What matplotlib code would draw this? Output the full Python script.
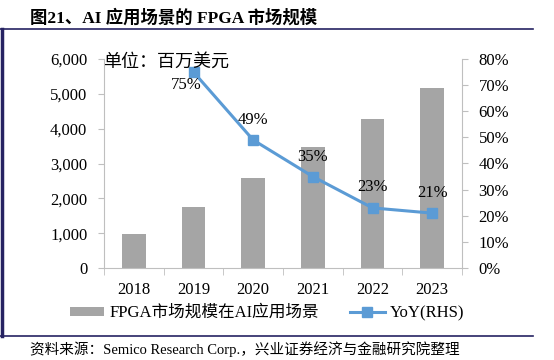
import matplotlib
matplotlib.use("Agg")
import matplotlib.pyplot as plt
from matplotlib.lines import Line2D
from matplotlib.patches import Patch
import numpy as np

years = ["2018", "2019", "2020", "2021", "2022", "2023"]
market = [990, 1740, 2580, 3466, 4277, 5163]
yoy_years = ["2019", "2020", "2021", "2022", "2023"]
yoy = [75, 49, 35, 23, 21]
left_ticks = [0, 1000, 2000, 3000, 4000, 5000, 6000]
right_ticks = [0, 10, 20, 30, 40, 50, 60, 70, 80]

FAM = ["Liberation Serif", "Noto Sans CJK SC"]
plt.rcParams["font.family"] = FAM

bar_color = "#A5A5A5"
line_color = "#5B9BD5"
spine_color = "#BFBFBF"
frame_color = "#262262"

fig = plt.figure(figsize=(5.54, 3.60), dpi=100)
ax = fig.add_axes([104/554, 1-268/360, (462-104)/554, (268-59)/360])
x = np.arange(len(years))
ax.bar(x, market, width=0.4, color=bar_color, zorder=2)
ax.set_xlim(-0.5, len(years)-0.5)
ax.set_ylim(0, 6000)
ax.set_yticks(left_ticks)
ax.set_yticklabels([f"{v:,}" for v in left_ticks], fontsize=12)
ax.set_xticks(x)
ax.set_xticklabels(years, fontsize=12)
ax.set_xticks(np.arange(-0.5, len(years)), minor=True)
ax.tick_params(axis="x", which="major", length=0, pad=10)
ax.tick_params(axis="x", which="minor", length=5, color=spine_color, direction="out")
ax.tick_params(axis="y", length=4, color=spine_color, direction="out", pad=8)
for s in ["top", "right"]:
    ax.spines[s].set_visible(False)
for s in ["left", "bottom"]:
    ax.spines[s].set_color(spine_color)

ax2 = ax.twinx()
xi = [years.index(y) for y in yoy_years]
ax2.plot(xi, yoy, color=line_color, lw=2.2, marker="s", markersize=6.5, zorder=3)
ax2.set_ylim(0, 80)
ax2.set_yticks(right_ticks)
ax2.set_yticklabels([f"{v}%" for v in right_ticks], fontsize=12)
ax2.tick_params(axis="y", length=4, color=spine_color, direction="out", pad=8)
for s in ["top", "left", "bottom"]:
    ax2.spines[s].set_visible(False)
ax2.spines["right"].set_color(spine_color)

offsets = [(-7, -13), (0, 20), (0, 20), (0, 21), (0, 20)]
for xx, v, (dx, dy) in zip(xi, yoy, offsets):
    ax2.annotate(f"{v}%", (xx, v), xytext=(dx*0.72, dy*0.72), textcoords="offset points",
                 ha="center", va="center", fontsize=12)

fig.text(103/554, 1-62/360, "单位：百万美元", fontsize=13, va="center", ha="left")

handles = [Patch(facecolor=bar_color, edgecolor="none"),
           Line2D([0], [0], color=line_color, lw=2.2, marker="s", markersize=6.5)]
fig.legend(handles, ["FPGA市场规模在AI应用场景", "YoY(RHS)"], loc="center",
           bbox_to_anchor=(267/554, 1-313/360), ncol=2, frameon=False, fontsize=12,
           handlelength=2.05, handleheight=0.45, handletextpad=0.3, columnspacing=1.9)

fig.text(30/554, 1-18/360, "图21、AI 应用场景的 FPGA 市场规模", fontsize=12.5,
         fontweight="bold", va="center", ha="left")
fig.text(30/554, 1-349/360, "资料来源：Semico Research Corp.，兴业证券经济与金融研究院整理",
         fontsize=10.5, va="center", ha="left")

fig.add_artist(Line2D([0, 533/554], [1-29/360, 1-29/360], color=frame_color, lw=1.2))
fig.add_artist(Line2D([0, 533/554], [1-336/360, 1-336/360], color=frame_color, lw=1.2))
fig.add_artist(Line2D([1.5/554, 1.5/554], [1-29/360, 1-336/360], color=frame_color, lw=2.5))

fig.savefig("out.png", dpi=100)
